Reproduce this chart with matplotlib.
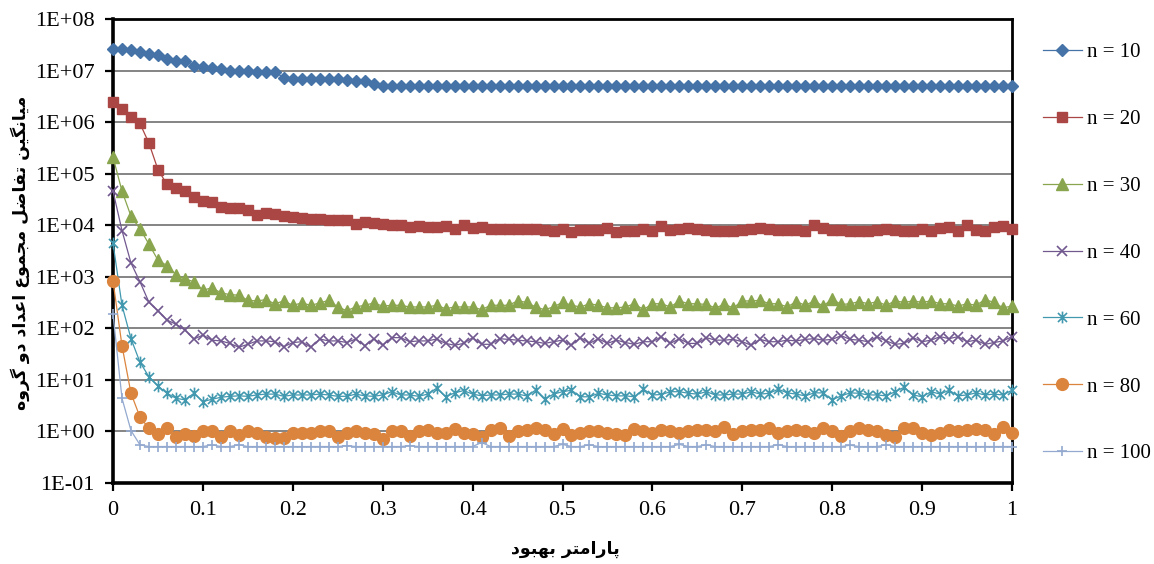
#!/usr/bin/env python3
"""
Mean difference of group sums vs. improvement parameter, for several n (log scale).
"""

import numpy as np
import matplotlib
matplotlib.use("Agg")
import matplotlib.pyplot as plt
from matplotlib.path import Path

# ---- data ----
x_vals = [round(i * 0.01, 2) for i in range(101)]

n10 = [2.6e7, 2.6e7, 2.5e7, 2.3e7, 2.1e7, 2.0e7, 1.7e7, 1.5e7, 1.5e7, 1.25e7,
       1.15e7, 1.1e7, 1.07e7, 1.0e7, 9.6e6, 9.6e6, 9.5e6, 9.5e6, 9.3e6, 7.3e6,
       7.0e6, 7.0e6, 6.9e6, 6.9e6, 6.9e6, 6.9e6, 6.7e6, 6.3e6, 6.3e6, 5.6e6,
       5.1e6, 5.0e6, 5.0e6, 5.0e6, 5.0e6, 5.0e6, 5.0e6, 5.0e6, 5.0e6, 5.0e6,
       5.0e6, 5.0e6, 5.0e6, 5.0e6, 5.0e6, 5.0e6, 5.0e6, 5.0e6, 5.0e6, 5.0e6,
       5.0e6, 5.0e6, 5.0e6, 5.0e6, 5.0e6, 5.0e6, 5.0e6, 5.0e6, 5.0e6, 5.0e6,
       5.0e6, 5.0e6, 5.0e6, 5.0e6, 5.0e6, 5.0e6, 5.0e6, 5.0e6, 5.0e6, 5.0e6,
       5.0e6, 5.0e6, 5.0e6, 5.0e6, 5.0e6, 5.0e6, 5.0e6, 5.0e6, 5.0e6, 5.0e6,
       5.0e6, 5.0e6, 5.0e6, 5.0e6, 5.0e6, 5.0e6, 5.0e6, 5.0e6, 5.0e6, 5.0e6,
       5.0e6, 5.0e6, 5.0e6, 5.0e6, 5.0e6, 5.0e6, 5.0e6, 5.0e6, 5.0e6, 5.0e6,
       5.0e6]

n20 = [2.5e6, 1.8e6, 1.23e6, 9.4e5, 3.9e5, 1.2e5, 6.2e4, 5.2e4, 4.6e4, 3.5e4,
       3.0e4, 2.8e4, 2.3e4, 2.2e4, 2.2e4, 1.94e4, 1.6e4, 1.75e4, 1.66e4, 1.5e4,
       1.45e4, 1.38e4, 1.35e4, 1.3e4, 1.28e4, 1.24e4, 1.28e4, 1.07e4, 1.15e4, 1.12e4,
       1.07e4, 1.0e4, 1.0e4, 9.1e3, 9.8e3, 9.1e3, 9.1e3,
       9.5e3, 8.6e3, 9.9e3, 8.9e3, 9.1e3, 8.6e3, 8.3e3, 8.3e3, 8.3e3, 8.3e3,
       8.4e3, 8.2e3, 7.9e3, 8.6e3, 7.4e3, 8.2e3, 8.2e3, 8.2e3, 8.9e3, 7.4e3,
       7.9e3, 7.9e3, 8.5e3, 7.7e3, 9.5e3, 8.2e3, 8.6e3, 8.9e3, 8.6e3, 8.2e3,
       7.9e3, 7.7e3, 7.9e3,
       8.1e3, 8.3e3, 8.8e3, 8.6e3, 8.1e3, 8.1e3, 8.1e3, 7.7e3, 9.9e3, 8.9e3,
       8.1e3, 8.1e3, 7.9e3, 7.9e3, 7.9e3, 8.1e3, 8.3e3, 8.1e3, 7.9e3, 7.9e3,
       8.6e3, 7.7e3, 8.8e3, 9.3e3, 7.9e3, 9.9e3, 8.1e3, 7.9e3, 9.3e3, 9.5e3,
       8.3e3]

n30 = [2.1e5, 4.6e4, 1.5e4, 8.5e3, 4.3e3, 2.1e3, 1.65e3, 1.1e3, 9.1e2, 8.0e2,
       5.5e2, 6.1e2, 4.9e2, 4.5e2, 4.4e2, 3.5e2, 3.4e2, 3.6e2, 3.0e2, 3.4e2,
       2.8e2, 3.1e2, 2.8e2, 3.1e2, 3.5e2, 2.6e2, 2.2e2, 2.6e2, 2.8e2, 3.1e2,
       2.7e2, 2.8e2, 2.8e2, 2.6e2, 2.6e2, 2.6e2, 2.8e2,
       2.4e2, 2.6e2, 2.6e2, 2.6e2, 2.3e2, 2.8e2, 2.8e2, 2.8e2, 3.4e2, 3.2e2,
       2.6e2, 2.3e2, 2.6e2, 3.2e2, 2.8e2, 2.6e2, 3.0e2, 2.8e2, 2.5e2, 2.5e2,
       2.6e2, 3.0e2, 2.3e2, 3.0e2, 3.0e2, 2.6e2, 3.4e2, 3.0e2, 3.0e2, 2.9e2,
       2.5e2, 2.9e2, 2.5e2,
       3.4e2, 3.4e2, 3.5e2, 3.0e2, 3.0e2, 2.6e2, 3.3e2, 2.8e2, 3.4e2, 2.7e2,
       3.7e2, 2.9e2, 3.0e2, 3.3e2, 3.0e2, 3.3e2, 2.8e2, 3.4e2, 3.2e2, 3.4e2,
       3.2e2, 3.4e2, 3.0e2, 3.0e2, 2.7e2, 3.0e2, 2.8e2, 3.6e2, 3.2e2, 2.5e2,
       2.7e2]

n40 = [4.6e4, 7.9e3, 1.85e3, 8.0e2, 3.2e2, 2.2e2, 1.45e2, 1.2e2, 93, 62,
       74, 59, 57, 51, 43, 49, 57, 57, 55, 44,
       53, 55, 43, 62, 57, 57, 53, 62, 46, 63,
       47, 66, 66, 55, 57, 57, 62,
       51, 47, 51, 66, 49, 49, 63, 61, 59, 57,
       55, 51, 55, 59, 47, 66, 51, 63, 51, 59,
       53, 49, 55, 55, 69, 51, 63, 51, 51, 66,
       59, 59, 61,
       55, 47, 61, 55, 55, 59, 57, 61, 63, 59,
       61, 72, 61, 59, 55, 69, 57, 49, 51, 66,
       55, 59, 69, 63, 69, 55, 59, 49, 53, 57,
       69]

n60 = [4.5e3, 2.8e2, 63, 22, 11.5, 7.6, 5.5, 4.4, 4.1, 5.5,
       3.8, 4.2, 4.6, 4.8, 4.9, 4.8, 5.1, 5.3, 5.3, 4.8,
       5.1, 5.1, 5.1, 5.3, 5.1, 4.8, 4.8, 5.3, 4.9, 4.8,
       5.1, 5.9, 5.1, 5.1, 4.8, 5.3, 6.9,
       4.7, 5.6, 6.2, 5.3, 4.9, 5.1, 5.1, 5.3, 5.3, 4.9,
       6.3, 4.2, 5.3, 5.9, 6.3, 4.7, 4.7, 5.5, 5.1, 4.9,
       4.9, 4.7, 6.6, 5.1, 5.2, 5.9, 5.9, 5.5, 5.3, 5.9,
       5.1, 5.1, 5.3,
       5.3, 5.9, 5.3, 5.5, 6.6, 5.6, 5.3, 4.9, 5.6, 5.6,
       4.1, 4.9, 5.6, 5.5, 5.1, 5.1, 4.9, 5.9, 7.2, 5.1,
       4.7, 5.9, 5.3, 6.3, 4.9, 5.1, 5.6, 5.1, 5.3, 5.1,
       6.3]

n80 = [8.3e2, 46, 5.5, 1.9, 1.15, 0.89, 1.15, 0.79, 0.89, 0.83,
       1.02, 1.02, 0.77, 1.0, 0.86, 1.02, 0.95, 0.77, 0.74, 0.74,
       0.95, 0.93, 0.93, 1.0, 1.03, 0.77, 0.93, 1.0, 0.95, 0.89,
       0.72, 1.03, 1.03, 0.83, 1.03, 1.06, 0.93,
       0.93, 1.1, 0.93, 0.89, 0.77, 1.07, 1.15, 0.83, 1.0, 1.07,
       1.15, 1.07, 0.89, 1.1, 0.86, 0.93, 1.0, 1.03, 0.95, 0.89,
       0.86, 1.1, 1.0, 0.93, 1.07, 1.0, 0.95, 1.0, 1.07, 1.07,
       1.03, 1.2, 0.89,
       1.03, 1.07, 1.07, 1.15, 0.93, 1.0, 1.07, 1.03, 0.95, 1.15,
       1.03, 0.83, 1.03, 1.15, 1.07, 1.03, 0.86, 0.77, 1.15, 1.15,
       0.95, 0.86, 0.93, 1.07, 1.03, 1.07, 1.1, 1.07, 0.89, 1.24,
       0.93]

n100 = [1.9e2, 4.4, 1.04, 0.55, 0.51, 0.51, 0.51, 0.51, 0.51, 0.51,
        0.51, 0.55, 0.51, 0.51, 0.55, 0.51, 0.51, 0.51, 0.51, 0.51,
        0.51, 0.51, 0.51, 0.51, 0.51, 0.51, 0.53, 0.51, 0.51, 0.51,
        0.51, 0.51, 0.51, 0.53, 0.51, 0.51, 0.51,
        0.51, 0.51, 0.51, 0.51, 0.61, 0.51, 0.51, 0.51, 0.51, 0.51,
        0.51, 0.51, 0.51, 0.56, 0.51, 0.51, 0.55, 0.51, 0.51, 0.51,
        0.51, 0.51, 0.51, 0.51, 0.51, 0.51, 0.56, 0.51, 0.51, 0.55,
        0.51, 0.51, 0.51,
        0.51, 0.51, 0.51, 0.51, 0.55, 0.51, 0.51, 0.51, 0.51, 0.51,
        0.51, 0.51, 0.54, 0.51, 0.51, 0.51, 0.55, 0.51, 0.51, 0.51,
        0.51, 0.51, 0.51, 0.51, 0.51, 0.51, 0.51, 0.51, 0.51, 0.51,
        0.51]

series_labels = ["n = 10", "n = 20", "n = 30", "n = 40", "n = 60", "n = 80", "n = 100"]
x_ticks = [0, 0.1, 0.2, 0.3, 0.4, 0.5, 0.6, 0.7, 0.8, 0.9, 1]
x_tick_labels = ["0", "0.1", "0.2", "0.3", "0.4", "0.5", "0.6", "0.7", "0.8", "0.9", "1"]
y_ticks = [1e-1, 1e0, 1e1, 1e2, 1e3, 1e4, 1e5, 1e6, 1e7, 1e8]
y_tick_labels = ["1E-01", "1E+00", "1E+01", "1E+02", "1E+03", "1E+04",
                 "1E+05", "1E+06", "1E+07", "1E+08"]
x_label = "پارامتر بهبود"
y_label = "میانگین تفاضل مجموع اعداد دو گروه"


# ---- minimal Persian shaping (matplotlib does no Arabic joining) ----
FORMS = {
    'ا': ('\uFE8D', '\uFE8E', None, None),
    'ب': ('\uFE8F', '\uFE90', '\uFE91', '\uFE92'),
    'پ': ('\uFB56', '\uFB57', '\uFB58', '\uFB59'),
    'ت': ('\uFE95', '\uFE96', '\uFE97', '\uFE98'),
    'ج': ('\uFE9D', '\uFE9E', '\uFE9F', '\uFEA0'),
    'د': ('\uFEA9', '\uFEAA', None, None),
    'ر': ('\uFEAD', '\uFEAE', None, None),
    'ض': ('\uFEBD', '\uFEBE', '\uFEBF', '\uFEC0'),
    'ع': ('\uFEC9', '\uFECA', '\uFECB', '\uFECC'),
    'ف': ('\uFED1', '\uFED2', '\uFED3', '\uFED4'),
    'گ': ('\uFB92', '\uFB93', '\uFB94', '\uFB95'),
    'ل': ('\uFEDD', '\uFEDE', '\uFEDF', '\uFEE0'),
    'م': ('\uFEE1', '\uFEE2', '\uFEE3', '\uFEE4'),
    'ن': ('\uFEE5', '\uFEE6', '\uFEE7', '\uFEE8'),
    'ه': ('\uFEE9', '\uFEEA', '\uFEEB', '\uFEEC'),
    'و': ('\uFEED', '\uFEEE', None, None),
    'ی': ('\uFBFC', '\uFBFD', '\uFBFE', '\uFBFF'),
}


def shape_fa(text):
    out = []
    for i, ch in enumerate(text):
        if ch not in FORMS:
            out.append(ch)
            continue
        prev = text[i - 1] if i > 0 else ''
        nxt = text[i + 1] if i + 1 < len(text) else ''
        joins_prev = prev in FORMS and FORMS[prev][2] is not None
        joins_next = FORMS[ch][2] is not None and nxt in FORMS
        iso, fin, ini, med = FORMS[ch]
        if joins_prev and joins_next:
            out.append(med)
        elif joins_prev:
            out.append(fin)
        elif joins_next:
            out.append(ini)
        else:
            out.append(iso)
    return ''.join(reversed(out))


# asterisk marker like Excel's "star": an x with a vertical bar through it
star = Path([(-1, -1), (1, 1), (-1, 1), (1, -1), (0, -1.3), (0, 1.3)],
            [Path.MOVETO, Path.LINETO, Path.MOVETO, Path.LINETO, Path.MOVETO, Path.LINETO])

styles = [
    dict(color='#4572A7', marker='D', ms=6),
    dict(color='#AA4643', marker='s', ms=7.5),
    dict(color='#89A54E', marker='^', ms=8),
    dict(color='#71588F', marker='x', ms=7, mew=1.2),
    dict(color='#4198AF', marker=star, ms=8.5, mew=1.2),
    dict(color='#DB843D', marker='o', ms=8.5),
    dict(color='#93A9CF', marker='+', ms=7, mew=1.2),
]

plt.rcParams['font.family'] = ['Liberation Serif', 'DejaVu Serif']

fig = plt.figure(figsize=(11.54, 5.64), dpi=100)
ax = fig.add_axes([113 / 1154, 1 - 483 / 564, (1012 - 113) / 1154, (483 - 19) / 564])

for y_vals, label, st in zip([n10, n20, n30, n40, n60, n80, n100], series_labels, styles):
    ax.plot(x_vals, y_vals, label=label, lw=0.9, clip_on=False, zorder=3, **st)

ax.set_yscale('log')
ax.set_ylim(1e-1, 1e8)
ax.set_xlim(0, 1)
ax.set_yticks(y_ticks)
ax.set_yticklabels(y_tick_labels)
ax.yaxis.set_minor_locator(matplotlib.ticker.NullLocator())
ax.set_xticks(x_ticks)
ax.set_xticklabels(x_tick_labels)
ax.tick_params(axis='both', direction='out', labelsize=16, width=1.6, length=6, pad=7)

ax.grid(True, axis='y', color='#707070', lw=1.2)
ax.set_axisbelow(True)
for side in ['left', 'bottom']:
    ax.spines[side].set_linewidth(2.6)
for side in ['top', 'right']:
    ax.spines[side].set_linewidth(2.0)

fig.text(20 / 1154, 1 - 253 / 564, shape_fa(y_label), rotation=90, ha='center', va='center',
         family=['DejaVu Sans'], fontweight='bold', fontsize=12.5)
fig.text(565 / 1154, 1 - 549 / 564, shape_fa(x_label), ha='center', va='center',
         family=['DejaVu Sans'], fontweight='bold', fontsize=12.5)

ax.legend(loc='center left', bbox_to_anchor=(1043 / 1154, 1 - 253 / 564),
          bbox_transform=fig.transFigure, frameon=False, fontsize=15,
          labelspacing=2.27, handlelength=1.85, handletextpad=0.25,
          borderpad=0, borderaxespad=0)

fig.savefig('out.png', dpi=100)
